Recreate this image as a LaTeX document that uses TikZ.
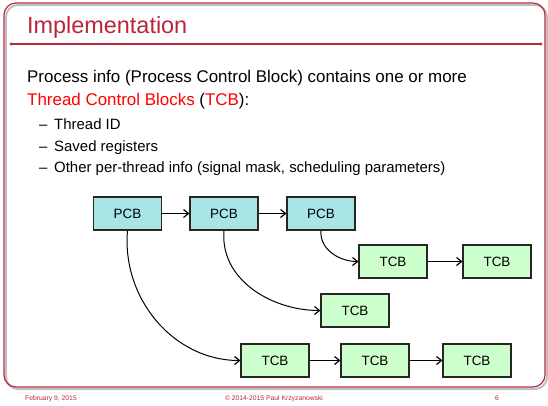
\documentclass[tikz,border=0pt]{standalone}
\usepackage{fontspec}
\setmainfont{Liberation Sans}
\usepackage{tikz}
\usetikzlibrary{positioning,arrows.meta}
\definecolor{slidered}{HTML}{B8263C}
\definecolor{pcbfill}{HTML}{A9E5E5}
\definecolor{tcbfill}{HTML}{CCFFCC}
\tikzset{
	blk/.style={draw=black!85,line width=1.1pt,minimum width=68bp,minimum height=33bp,inner sep=0pt,font=\fontsize{13.5}{13.5}\selectfont},
	pcb/.style={blk,fill=pcbfill},
	tcb/.style={blk,fill=tcbfill},
	lnk/.style={-{Straight Barb[length=5bp,width=8bp,line width=1.2pt]},line width=1pt},
	body/.style={anchor=base west,inner sep=0pt,font=\fontsize{17}{17}\selectfont},
	sub/.style={anchor=base west,inner sep=0pt,font=\fontsize{15}{15}\selectfont},
	foot/.style={inner sep=0pt,text=slidered,font=\fontsize{6.8}{6.8}\selectfont}
}
\begin{document}
\begin{tikzpicture}[x=1bp,y=-1bp]
	\useasboundingbox (0,0) rectangle (548,405);
	
	% frame
	\draw[black!25,line width=2pt,rounded corners=12bp] (6,5) rectangle (547,389);
	\draw[slidered,line width=1.2pt,rounded corners=12bp] (4,3) rectangle (545,387);
	\draw[slidered,line width=1.2pt] (11,44) -- (541,44);
	\fill[slidered] (11,44) circle(1.6);
	\fill[slidered] (541,44) circle(1.6);
	\node[anchor=base west,inner sep=0pt,text=slidered,font=\fontsize{23.5}{23.5}\selectfont] (title) at (27,33) {Implementation};
	
	% text
	\node[body] (l1) at (27,82) {Process info (Process Control Block) contains one or more};
	\node[body] (l2) at (27,105) {\textcolor{red}{Thread Control Blocks} (\textcolor{red}{TCB}):};
	\node[sub] (s1) at (39,129) {--\hspace{0.45em}Thread ID};
	\node[sub] (s2) at (39,151) {--\hspace{0.45em}Saved registers};
	\node[sub] (s3) at (39,172) {--\hspace{0.45em}Other per-thread info (signal mask, scheduling parameters)};
	
	% blocks
	\node[pcb] (p1) at (127.5,213.5) {PCB};
	\node[pcb] (p2) at (224,213.5) {PCB};
	\node[pcb] (p3) at (321,213.5) {PCB};
	\node[tcb] (a1) at (393,261.5) {TCB};
	\node[tcb] (a2) at (497,261.5) {TCB};
	\node[tcb] (b1) at (355,310.5) {TCB};
	\node[tcb] (c1) at (275,360.5) {TCB};
	\node[tcb] (c2) at (375,360.5) {TCB};
	\node[tcb] (c3) at (477,360.5) {TCB};
	
	\draw[lnk] (p1) -- (p2);
	\draw[lnk] (p2) -- (p3);
	\draw[lnk] (a1) -- (a2);
	\draw[lnk] (c1) -- (c2);
	\draw[lnk] (c2) -- (c3);
	\draw[lnk] (p3.south) to[out=-95,in=180] (a1.west);
	\draw[lnk] (p2.south) to[out=-95,in=180] (b1.west);
	\draw[lnk] (p1.south) to[out=-95,in=180] (c1.west);
	
	% footer
	\node[foot,anchor=base west] (date) at (25,400) {February 9, 2015};
	\node[foot,anchor=base] (copy) at (274,400) {\textcopyright\ 2014-2015 Paul Krzyzanowski};
	\node[foot,anchor=base] (page) at (497,400) {6};
\end{tikzpicture}
\end{document}
